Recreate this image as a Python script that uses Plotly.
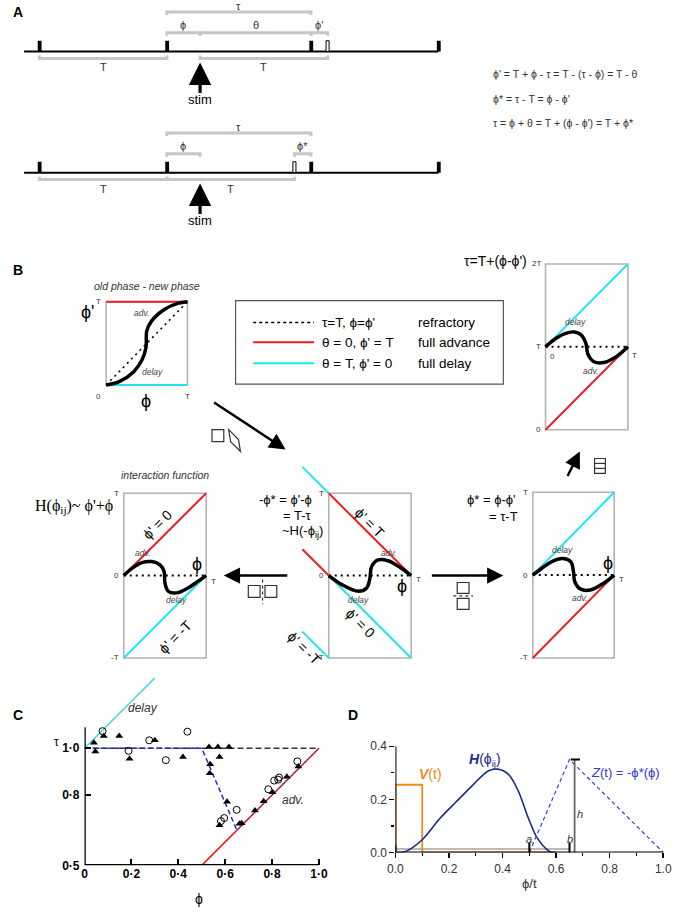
import plotly.graph_objects as go

W, H = 680, 918
SANS = "Liberation Sans, Arial, Helvetica, sans-serif"
SERIF = "Liberation Serif, Times New Roman, serif"
RED = "#ec1c24"
CYAN = "#22e4ee"
CYAN_C = "#3fd6e6"
BRK = "#c6c6c6"
BOX = "#b3b3b3"
INK = "#222222"

# ======================= DATA =======================
# ---- Panel A: event times in units of the period T ----
A_line = [-0.12, 3.13]
A_top_pulses = [0.0, 1.0, 2.13, 3.13]
A_top_open = [2.26]
A_bot_pulses = [0.0, 1.0, 2.13, 3.13]
A_bot_open = [2.0]
A_stim = 1.26
A_top_brk_start = [1.0, 1.0, 1.26, 2.13, 0.0, 1.26]
A_top_brk_end = [2.13, 1.26, 2.13, 2.26, 1.0, 2.26]
A_top_brk_label = ["τ", "ϕ", "θ", "ϕ'", "T", "T"]
A_top_brk_level = [0, 1, 1, 1, 2, 2]
A_bot_brk_start = [1.0, 1.0, 2.0, 0.0, 1.0]
A_bot_brk_end = [2.13, 1.26, 2.13, 1.0, 2.0]
A_bot_brk_label = ["τ", "ϕ", "ϕ*", "T", "T"]
A_bot_brk_level = [0, 1, 1, 2, 2]
A_equations = ["ϕ' = T + ϕ - τ = T - (τ - ϕ) = T - θ",
               "ϕ* = τ - T = ϕ - ϕ'",
               "τ = ϕ + θ = T + (ϕ - ϕ') = T + ϕ*"]

# ---- Panel B: schematic curves (units of T) ----
B1_phi = [0, 0.16, 0.34, 0.44, 0.49, 0.50, 0.56, 0.72, 0.88, 1.0]
B1_new = [0, 0.04, 0.16, 0.30, 0.45, 0.65, 0.77, 0.91, 0.98, 1.0]
B2_phi = [0, 0.108, 0.228, 0.348, 0.428, 0.488, 0.516, 0.588, 0.708, 0.868, 1.0]
B2_tau = [1.0, 1.088, 1.156, 1.18, 1.148, 1.048, 0.908, 0.82, 0.81, 0.888, 1.0]
B3_phi = [0, 0.10, 0.22, 0.34, 0.44, 0.49, 0.50, 0.54, 0.64, 0.78, 0.90, 1.0]
B3_H = [0, 0.088, 0.157, 0.17, 0.13, 0.05, -0.09, -0.19, -0.21, -0.15, -0.07, 0]
B4_phi = [0, 0.16, 0.36, 0.46, 0.50, 0.52, 0.60, 0.72, 0.88, 1.0]
B4_val = [0, -0.11, -0.19, -0.15, -0.03, 0.11, 0.19, 0.18, 0.09, 0]
B5_phi = [0, 0.108, 0.228, 0.368, 0.468, 0.50, 0.516, 0.588, 0.708, 0.868, 1.0]
B5_val = [0, 0.08, 0.16, 0.20, 0.16, 0.04, -0.08, -0.17, -0.18, -0.10, 0]
B_legend_labels = ["τ=T, ϕ=ϕ'", "θ = 0, ϕ' = T", "θ = T, ϕ' = 0"]
B_legend_desc = ["refractory", "full advance", "full delay"]

# ---- Panel C: measured tau vs phi ----
C_tri_x = [0.04, 0.046, 0.082, 0.148, 0.192, 0.30, 0.42, 0.531, 0.569, 0.616, 0.576,
           0.536, 0.534, 0.608, 0.576, 0.661, 0.67, 0.727, 0.764, 0.802, 0.863, 0.912]
C_tri_y = [1.024, 0.986, 1.052, 1.052, 0.955, 1.034, 0.963, 1.005, 1.005, 1.005, 0.963,
           0.932, 0.893, 0.772, 0.671, 0.678, 0.68, 0.734, 0.774, 0.812, 0.878, 0.922]
C_circ_x = [0.077, 0.188, 0.276, 0.347, 0.439, 0.649, 0.582, 0.596, 0.784, 0.809, 0.826, 0.83, 0.908]
C_circ_y = [1.073, 0.989, 1.034, 0.949, 1.071, 0.737, 0.689, 0.702, 0.825, 0.862, 0.866, 0.875, 0.944]
C_ref_x = [0, 1.0]
C_ref_y = [1.0, 1.0]
C_delay_x = [0, 0.30]
C_delay_y = [1.0, 1.30]
C_adv_x = [0.5, 1.0]
C_adv_y = [0.5, 1.0]
C_fit_x = [0, 0.5, 0.65]
C_fit_y = [1.0, 1.0, 0.65]
C_fit2_x = [0.65, 1.0]
C_fit2_y = [0.65, 1.0]
C_xticks = [0, 0.2, 0.4, 0.6, 0.8, 1.0]
C_xticktext = ["0", "0·2", "0·4", "0·6", "0·8", "1·0"]
C_yticks = [0.5, 0.8, 1.0]
C_yticktext = ["0·5", "0·8", "1·0"]

# ---- Panel D ----
D_H_x = [0, 0.02, 0.043, 0.098, 0.165, 0.226, 0.287, 0.348, 0.382, 0.421, 0.458, 0.495, 0.531, 0.568, 0.586, 0.6]
D_H_y = [0, 0.0, 0.006, 0.046, 0.127, 0.19, 0.252, 0.308, 0.314, 0.295, 0.233, 0.133, 0.052, 0.009, 0.0, 0.0]
D_V_x = [0, 0, 0.1, 0.1, 0.6]
D_V_y = [0, 0.255, 0.255, 0, 0]
D_Z_x = [0.5, 0.65, 1.0]
D_Z_y = [0, 0.35, 0]
D_a, D_b, D_h = 0.5, 0.65, 0.35
D_h_x = 0.669
D_base_y = 0.013
D_xticks = [0, 0.2, 0.4, 0.6, 0.8, 1.0]
D_yticks = [0, 0.2, 0.4]

# ======================= HELPERS =======================
annotations, shapes, axes = [], [], {}
fig = go.Figure()


def box_axes(n, px0, px1, py0, py1, xr, yr, pl=6, pr=6, pt=6, pb=6):
    sx = (xr[1] - xr[0]) / (px1 - px0)
    sy = (yr[1] - yr[0]) / (py1 - py0)
    key = "" if n == 1 else str(n)
    xa = dict(domain=[(px0 - pl) / W, (px1 + pr) / W], range=[xr[0] - pl * sx, xr[1] + pr * sx],
              anchor="y" + key, visible=False, fixedrange=True)
    ya = dict(domain=[1 - (py1 + pb) / H, 1 - (py0 - pt) / H], range=[yr[0] - pb * sy, yr[1] + pt * sy],
              anchor="x" + key, visible=False, fixedrange=True)
    axes["xaxis" + key] = xa
    axes["yaxis" + key] = ya
    return ("x" + key, "y" + key)


def txt(s, x, y, size=11, color=INK, xa="center", ya="middle", family=SANS, angle=0, ref=None):
    if ref is None:
        xx, yy, xr, yr = x / W, 1 - y / H, "paper", "paper"
    else:
        xx, yy, xr, yr = x, y, ref[0], ref[1]
    annotations.append(dict(text=s, x=xx, y=yy, xref=xr, yref=yr, xanchor=xa, yanchor=ya,
                            showarrow=False, textangle=angle,
                            font=dict(size=size, color=color, family=family)))


def line(ref, xs, ys, color="black", width=1.5, dash="solid", shape="linear"):
    fig.add_trace(go.Scatter(x=xs, y=ys, xaxis=ref[0], yaxis=ref[1], mode="lines",
                             line=dict(color=color, width=width, dash=dash, shape=shape),
                             hoverinfo="skip", showlegend=False))


def arrow(tipx, tipy, tailx, taily, width=2.5, size=1.3):
    annotations.append(dict(text="", x=tipx / W, y=1 - tipy / H, xref="paper", yref="paper",
                            ax=tailx - tipx, ay=taily - tipy, axref="pixel", ayref="pixel",
                            showarrow=True, arrowhead=2, arrowsize=size, arrowwidth=width,
                            arrowcolor="black"))


def pshape(path, width=1.2, color="#333", dash="solid"):
    shapes.append(dict(type="path", path=path, xref="paper", yref="paper",
                       line=dict(color=color, width=width, dash=dash)))


def ppath(pts, close=True):
    s = "M " + " L ".join("%.5f,%.5f" % (x / W, 1 - y / H) for x, y in pts)
    return s + (" Z" if close else "")

# ======================= PANEL A =======================
A_px_T, A_x0 = 130.0, 32.0
A = box_axes(1, 0, W, 0, 240, [-A_x0 / A_px_T, (W - A_x0) / A_px_T], [0, 240], 0, 0, 0, 0)
axes["yaxis"]["range"] = [240, 0]
txt("<b>A</b>", 3, 12, size=14, color="black", xa="left")


def timeline(base, pulses, opens, bs, be, bl, blev):
    line(A, A_line, [base, base], color="black", width=2)
    for p in pulses:
        shapes.append(dict(type="rect", xref=A[0], yref=A[1], x0=p - 0.013, x1=p + 0.017,
                           y0=base - 11, y1=base, fillcolor="black", line=dict(width=0)))
    for p in opens:
        shapes.append(dict(type="rect", xref=A[0], yref=A[1], x0=p - 0.012, x1=p + 0.012,
                           y0=base - 11, y1=base, fillcolor="white", line=dict(width=1, color="black")))
    rows = {0: base - 40, 1: base - 19, 2: base + 7}
    for s, e, lab, lev in zip(bs, be, bl, blev):
        r = rows[lev]
        d = 3 if lev < 2 else -3
        shapes.append(dict(type="path", xref=A[0], yref=A[1],
                           path="M %f,%f L %f,%f L %f,%f L %f,%f" % (s, r + d, s, r, e, r, e, r + d),
                           line=dict(color=BRK, width=3)))
        ly = r - (6 if lev == 0 else 8) if lev < 2 else r + 9
        txt(lab, (s + e) / 2, ly, size=11, color="#333", ref=A)
    annotations.append(dict(text="", x=A_stim, y=base + 11, xref=A[0], yref=A[1], ax=0, ay=32,
                            showarrow=True, arrowhead=2, arrowsize=1.4, arrowwidth=3.2, arrowcolor="black"))
    txt("stim", A_stim, base + 48, size=13, color="black", ref=A)


timeline(52, A_top_pulses, A_top_open, A_top_brk_start, A_top_brk_end, A_top_brk_label, A_top_brk_level)
timeline(174, A_bot_pulses, A_bot_open, A_bot_brk_start, A_bot_brk_end, A_bot_brk_label, A_bot_brk_level)
for i, eq in enumerate(A_equations):
    txt(eq, 492, [75, 100, 124][i], size=10.5, color="#333", xa="left")

# ======================= PANEL B =======================
txt("<b>B</b>", 3, 272, size=14, color="black", xa="left")


def small(s, x, y, ref, xa="center", ya="middle"):
    txt(s, x, y, size=8, color="#333", xa=xa, ya=ya, ref=ref)


def lab(s, x, y, ref):
    txt("<i>" + s + "</i>", x, y, size=8.5, color="#444", ref=ref)


def box(ref, y0, y1):
    shapes.append(dict(type="rect", xref=ref[0], yref=ref[1], x0=0, x1=1, y0=y0, y1=y1,
                       line=dict(color=BOX, width=1.6), layer="below"))

# B1: old phase - new phase
B1 = box_axes(2, 100, 183, 304, 388, [0, 1], [0, 1])
box(B1, 0, 1)
line(B1, [0, 1], [1, 1], RED, 2)
line(B1, [0, 1], [0, 0], CYAN, 2)
line(B1, [0, 1], [0, 1], "black", 1.6, "2px,4px")
line(B1, B1_phi, B1_new, "black", 3.5, shape="spline")
lab("adv.", 0.43, 0.86, B1)
lab("delay", 0.57, 0.16, B1)
small("T", -0.04, 1.0, B1, xa="right")
small("0", -0.04, -0.06, B1, xa="right", ya="top")
small("T", 1.0, -0.06, B1, ya="top")
txt("<i>old phase - new phase</i>", 142, 288, size=10.5, color="#333")
txt("ϕ'", 82, 314, size=18, color="black")
txt("ϕ", 141, 404, size=18, color="black")

# legend box
shapes.append(dict(type="rect", xref="paper", yref="paper", x0=232 / W, x1=505 / W,
                   y0=1 - 387 / H, y1=1 - 303 / H, line=dict(color="#555", width=1.2)))
leg_colors = ["black", RED, CYAN]
leg_dash = ["dot", "solid", "solid"]
for i, (l1, l2) in enumerate(zip(B_legend_labels, B_legend_desc)):
    yy = [325, 345, 366][i]
    shapes.append(dict(type="line", xref="paper", yref="paper", x0=250 / W, x1=312 / W,
                       y0=1 - yy / H, y1=1 - yy / H,
                       line=dict(color=leg_colors[i], width=2 if i else 1.6, dash=leg_dash[i])))
    txt(l1, 318, yy, size=13.5, color="black", xa="left")
    txt(l2, 416, yy, size=13.5, color="black", xa="left")

# B2: tau = T + (phi - phi')
B2 = box_axes(3, 548, 632, 266, 433, [0, 1], [0, 2])
box(B2, 0, 2)
line(B2, [0, 1], [1, 2], CYAN, 2)
line(B2, [0, 1], [0, 1], RED, 2)
line(B2, [0, 1], [1, 1], "black", 2, "2px,4px")
line(B2, B2_phi, B2_tau, "black", 3.5, shape="spline")
lab("delay", 0.36, 1.30, B2)
lab("adv.", 0.54, 0.71, B2)
small("2T", -0.03, 2.0, B2, xa="right")
small("T", -0.03, 1.0, B2, xa="right")
small("0", 0.03, 0.96, B2, xa="left", ya="top")
small("T", 1.03, 0.97, B2, xa="left", ya="top")
small("0", -0.03, 0.0, B2, xa="right")
txt("τ=T+(ϕ-ϕ')", 531, 263, size=14, color="black", xa="right")

# B3: interaction function
B3 = box_axes(4, 118, 202, 497, 663, [0, 1], [-1, 1])
box(B3, -1, 1)
line(B3, [0, 1], [0, 1], RED, 2)
line(B3, [0, 1], [-1, 0], CYAN, 2)
line(B3, [0, 1], [0, 0], "black", 2, "2px,4px")
line(B3, B3_phi, B3_H, "black", 3.5, shape="spline")
lab("adv.", 0.23, 0.27, B3)
lab("delay", 0.64, -0.30, B3)
txt("ϕ' = 0", 0.40, 0.62, size=14, color="black", angle=-45, ref=B3)
txt("ϕ' = -T", 0.62, -0.74, size=14, color="black", angle=-45, ref=B3)
txt("ϕ", 0.89, 0.14, size=18, color="black", ref=B3)
small("T", -0.03, 1.0, B3, xa="right")
small("0", -0.03, 0.0, B3, xa="right")
small("T", 1.03, -0.07, B3, xa="left")
small("-T", -0.03, -1.0, B3, xa="right")
txt("<i>interaction function</i>", 160, 479, size=10.5, color="#333")
txt("H(ϕ<sub>ij</sub>)~ ϕ'+ϕ", 25, 510, size=16, color="black", xa="left", family=SERIF)

# B4: -phi*
B4 = box_axes(5, 327, 411, 497, 663, [0, 1], [-1, 1], pl=32, pt=32)
box(B4, -1, 1)
line(B4, [0, 1], [1, 0], RED, 2)
line(B4, [-0.32, 0], [0.32, 0], RED, 2)
line(B4, [-0.32, 0], [1.32, 1], CYAN, 2)
line(B4, [0, 1], [0, -1], CYAN, 2)
line(B4, [-0.32, 0], [-0.68, -1], CYAN, 2)
line(B4, [0, 1], [0, 0], "black", 2, "2px,4px")
line(B4, B4_phi, B4_val, "black", 3.5, shape="spline")
lab("adv.", 0.73, 0.27, B4)
lab("delay", 0.36, -0.30, B4)
txt("ϕ' = T", 0.50, 0.64, size=14, color="black", angle=45, ref=B4)
txt("ϕ' = 0", 0.38, -0.58, size=14, color="black", angle=45, ref=B4)
txt("ϕ' = -T", -0.30, -0.88, size=14, color="black", angle=45, ref=B4)
txt("ϕ", 0.89, -0.13, size=18, color="black", ref=B4)
small("T", -0.03, 1.0, B4, xa="right")
small("0", -0.03, 0.0, B4, xa="right")
small("T", 1.03, -0.05, B4, xa="left")
small("-T", -0.03, -1.0, B4, xa="right")
txt("-ϕ* = ϕ'-ϕ", 254, 503, size=13, color="black", xa="left")
txt("= T-τ", 278, 519, size=13, color="black", xa="left")
txt("~H(-ϕ<sub>ij</sub>)", 277, 536, size=13, color="black", xa="left")

# B5: phi*
B5 = box_axes(6, 535, 618, 496, 663, [0, 1], [-1, 1])
box(B5, -1, 1)
line(B5, [0, 1], [0, 1], CYAN, 2)
line(B5, [0, 1], [-1, 0], RED, 2)
line(B5, [0, 1], [0, 0], "black", 2, "2px,4px")
line(B5, B5_phi, B5_val, "black", 3.5, shape="spline")
lab("delay", 0.36, 0.30, B5)
lab("adv.", 0.58, -0.28, B5)
txt("ϕ", 0.92, 0.14, size=18, color="black", ref=B5)
small("T", -0.03, 1.0, B5, xa="right")
small("0", -0.03, 0.0, B5, xa="right")
small("T", 1.03, -0.05, B5, xa="left")
small("-T", -0.03, -1.0, B5, xa="right")
txt("ϕ* = ϕ-ϕ'", 466, 503, size=13, color="black", xa="left")
txt("= τ-T", 488, 520, size=13, color="black", xa="left")

# arrows and transform glyphs
arrow(283, 453, 210, 405)
arrow(220, 580, 285, 580)
arrow(505, 580, 432, 580)
arrow(583, 455, 570, 481)
pshape(ppath([(208, 433), (220, 433), (220, 445), (208, 445)]))
pshape(ppath([(225, 433), (235, 443), (237, 455), (227, 445)]))
pshape(ppath([(245, 590), (257, 590), (257, 602), (245, 602)]))
pshape(ppath([(262, 590), (274, 590), (274, 602), (262, 602)]))
pshape(ppath([(259.5, 584), (259.5, 609)], close=False), dash="dot")
pshape(ppath([(458, 587), (470, 587), (470, 598), (458, 598)]))
pshape(ppath([(458, 603), (470, 603), (470, 614), (458, 614)]))
pshape(ppath([(454, 600.5), (474, 600.5)], close=False), dash="dot")
pshape(ppath([(598, 462), (609, 462), (609, 477), (598, 477)]))
pshape(ppath([(598, 467), (609, 467)], close=False))
pshape(ppath([(598, 472), (609, 472)], close=False))

# ======================= PANEL C =======================
txt("<b>C</b>", 3, 720, size=14, color="black", xa="left")
C = box_axes(7, 78, 317, 754, 872, [0, 1], [0.5, 1.0], pl=0, pr=6, pt=80, pb=0)
for k in ("xaxis7", "yaxis7"):
    axes[k].update(visible=True, showline=False, showgrid=False, zeroline=False,
                   ticks="inside", ticklen=6, tickwidth=2, tickcolor="black",
                   tickfont=dict(size=12, color="black", family=SANS, weight="bold"))
axes["xaxis7"].update(tickvals=C_xticks, ticktext=C_xticktext)
axes["yaxis7"].update(tickvals=C_yticks, ticktext=C_yticktext, ticklabelstandoff=4)
shapes.append(dict(type="line", xref=C[0], yref=C[1], x0=0, x1=0, y0=0.5, y1=1.09,
                   line=dict(color="black", width=2.5)))
shapes.append(dict(type="line", xref=C[0], yref=C[1], x0=0, x1=1.0, y0=0.5, y1=0.5,
                   line=dict(color="black", width=2.5)))
line(C, C_delay_x, C_delay_y, CYAN_C, 1.5)
line(C, C_ref_x, C_ref_y, "#333", 1.5, "6px,3px")
line(C, C_adv_x, C_adv_y, RED, 1.5)
line(C, C_fit2_x, C_fit2_y, "#2a2ad8", 1, "3px,2px")
line(C, C_fit_x, C_fit_y, "#2a2ad8", 1.5, "5px,3px")
fig.add_trace(go.Scatter(x=C_circ_x, y=C_circ_y, xaxis=C[0], yaxis=C[1], mode="markers",
                         marker=dict(symbol="circle-open", size=7, color="black", line=dict(width=1)),
                         hoverinfo="skip", showlegend=False, cliponaxis=False))
fig.add_trace(go.Scatter(x=C_tri_x, y=C_tri_y, xaxis=C[0], yaxis=C[1], mode="markers",
                         marker=dict(symbol="triangle-up", size=7, color="black"),
                         hoverinfo="skip", showlegend=False, cliponaxis=False))
txt("<i>delay</i>", 0.25, 1.17, size=12, color="#333", ref=C)
txt("<i>adv.</i>", 0.89, 0.78, size=12, color="#333", ref=C)
txt("τ", 49, 748, size=12, color="black")
txt("ϕ", 195, 906, size=14, color="black")

# ======================= PANEL D =======================
txt("<b>D</b>", 345, 720, size=14, color="black", xa="left")
D = box_axes(8, 395, 668, 752, 859, [0, 1], [0, 0.4], pl=0, pr=4, pt=8, pb=0)
for k in ("xaxis8", "yaxis8"):
    axes[k].update(visible=True, showline=False, showgrid=False, zeroline=False,
                   ticks="outside", ticklen=5, tickwidth=1.5, tickcolor="black",
                   tickfont=dict(size=12, color="#333", family=SANS))
axes["xaxis8"].update(tickvals=D_xticks, ticktext=["%.1f" % v for v in D_xticks],
                      minor=dict(ticks="outside", tickvals=[0.1, 0.3, 0.5, 0.7, 0.9], ticklen=3,
                                 tickwidth=1.2, tickcolor="black"))
axes["yaxis8"].update(tickvals=D_yticks, ticktext=["%.1f" % v for v in D_yticks],
                      minor=dict(ticks="outside", tickvals=[0.1, 0.3], ticklen=3,
                                 tickwidth=1.2, tickcolor="black"))
line(D, [0, D_b], [D_base_y, D_base_y], "#777", 1)
line(D, D_V_x, D_V_y, "#f08a1e", 1.8)
line(D, D_H_x, D_H_y, "#1c2a8a", 1.6, shape="spline")
line(D, D_Z_x, D_Z_y, "#3c3ce6", 1.2, "4px,3px")
line(D, [D_h_x, D_h_x], [0, D_h], "#666", 1.8)
line(D, [D_h_x - 0.014, D_h_x + 0.02], [D_h, D_h], "black", 2)
for xv, top in ((0, 0.026), (D_a, 0.037), (D_b, 0.037)):
    line(D, [xv, xv], [-0.01, top], "black", 2)
shapes.append(dict(type="line", xref=D[0], yref=D[1], x0=0, x1=0, y0=0, y1=0.4,
                   line=dict(color="black", width=2)))
shapes.append(dict(type="line", xref=D[0], yref=D[1], x0=0, x1=1.0, y0=0, y1=0,
                   line=dict(color="black", width=2)))
txt("<b><i>V</i></b>(t)", 0.13, 0.295, size=14, color="#f08a1e", ref=D)
txt("<b><i>H</i></b>(ϕ<sub>ij</sub>)", 0.335, 0.35, size=14, color="#1c2a8a", ref=D)
txt("<i>Z</i>(t) = -ϕ*(ϕ)", 0.86, 0.30, size=13, color="#3535e0", ref=D)
txt("<i>h</i>", 0.69, 0.146, size=11, color="#333", ref=D)
txt("<i>a</i>", D_a, 0.05, size=11, color="#333", ref=D)
txt("<i>b</i>", D_b, 0.05, size=11, color="#333", ref=D)
txt("ϕ/t", 532, 890, size=13, color="#333")

fig.update_layout(width=W, height=H, margin=dict(l=0, r=0, t=0, b=0),
                  paper_bgcolor="white", plot_bgcolor="rgba(0,0,0,0)",
                  font=dict(family=SANS), annotations=annotations, shapes=shapes, **axes)
fig.write_html("out.html", config={"displayModeBar": False, "staticPlot": True},
               post_script="document.body.style.margin='0';document.body.style.padding='0';"
                           "document.body.style.overflow='hidden';")
